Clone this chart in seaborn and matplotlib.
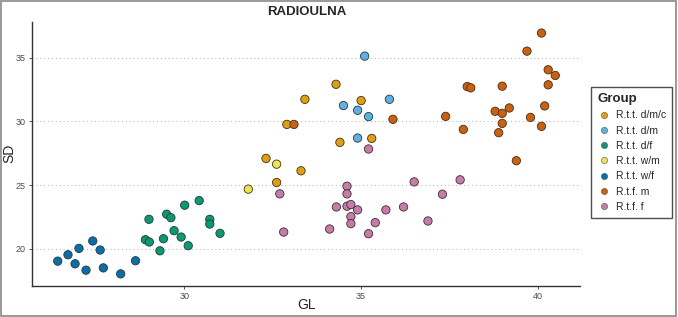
import numpy as np
import pandas as pd
import seaborn as sns
import matplotlib.pyplot as plt
from matplotlib.patches import Rectangle

# ======== data ========
groups = ['R.t.t. d/m/c', 'R.t.t. d/m', 'R.t.t. d/f', 'R.t.t. w/m',
          'R.t.t. w/f', 'R.t.f. m', 'R.t.f. f']
colors = ['#E69F00', '#56B4E9', '#009E73', '#F0E442',
          '#0072B2', '#D55E00', '#CC79A7']

gl_dmc = [34.29, 33.41, 35.00, 32.90, 35.30, 34.40, 32.31, 33.30, 32.61]
sd_dmc = [32.91, 31.73, 31.63, 29.76, 28.66, 28.35, 27.09, 26.12, 25.20]

gl_dm = [35.10, 34.50, 35.80, 34.90, 35.21, 34.90]
sd_dm = [35.12, 31.24, 31.73, 30.87, 30.37, 28.69]

gl_df = [29.00, 28.90, 29.01, 29.41, 29.31, 29.50, 29.62, 29.71,
         29.91, 30.01, 30.11, 30.42, 30.72, 30.72, 31.01]
sd_df = [22.31, 20.71, 20.53, 20.79, 19.84, 22.71, 22.44, 21.42,
         20.92, 23.42, 20.24, 23.78, 22.31, 21.94, 21.21]

gl_wm = [32.61, 31.81]
sd_wm = [26.64, 24.68]

gl_wf = [26.42, 26.71, 27.02, 26.91, 27.22, 27.41, 27.62, 27.71, 28.20, 28.62]
sd_wf = [19.03, 19.53, 20.03, 18.82, 18.32, 20.61, 19.90, 18.50, 18.03, 19.06]

gl_m = [40.10, 39.69, 40.29, 40.49, 40.29, 38.00, 38.10, 38.99, 40.19, 38.79,
        38.99, 39.19, 37.39, 39.79, 40.10, 38.99, 37.89, 38.89, 39.39,
        33.10, 35.90]
sd_m = [36.93, 35.51, 34.05, 33.60, 32.87, 32.73, 32.63, 32.76, 31.21, 30.79,
        30.63, 31.05, 30.39, 30.31, 29.61, 29.84, 29.37, 29.11, 26.91,
        29.76, 30.16]

gl_f = [32.70, 32.81, 34.60, 34.60, 34.30, 34.60, 34.71, 34.90, 34.71, 34.71,
        34.11, 35.21, 35.40, 35.70, 36.20, 36.50, 35.21, 37.80, 37.30, 36.89]
sd_f = [24.31, 21.31, 24.91, 24.31, 23.28, 23.34, 23.47, 23.05, 22.52, 21.97,
        21.55, 21.18, 22.05, 23.05, 23.28, 25.25, 27.83, 25.41, 24.28, 22.18]

gl_all = [gl_dmc, gl_dm, gl_df, gl_wm, gl_wf, gl_m, gl_f]
sd_all = [sd_dmc, sd_dm, sd_df, sd_wm, sd_wf, sd_m, sd_f]

df = pd.concat([pd.DataFrame({'GL': g, 'SD': s, 'Group': name})
                for g, s, name in zip(gl_all, sd_all, groups)],
               ignore_index=True)
df['Group'] = pd.Categorical(df['Group'], categories=groups, ordered=True)

# ======== plot ========
sns.set_theme(style='white')
plt.rcParams['font.family'] = ['Liberation Sans', 'DejaVu Sans']

fig = plt.figure(figsize=(6.78, 3.17), dpi=100)
ax = fig.add_axes([0.0476, 0.0987, 0.8084, 0.832])

sns.scatterplot(data=df, x='GL', y='SD', hue='Group', hue_order=groups,
                palette=colors, s=36, edgecolor='#333333', linewidth=0.6,
                ax=ax, legend=False, zorder=3)

ax.set_xlim(25.7, 41.2)
ax.set_ylim(17.1, 37.8)
ax.set_xticks([30, 35, 40])
ax.set_yticks([20, 25, 30, 35])
ax.tick_params(axis='both', labelsize=6.5, labelcolor='#4d4d4d', length=2.5,
               width=0.6, color='#333333', pad=2, bottom=True, left=True)
ax.yaxis.grid(True, linestyle=(0, (1, 2.5)), color='#bbbbbb', linewidth=0.8)
ax.xaxis.grid(False)
for side in ['top', 'right']:
    ax.spines[side].set_visible(False)
for side in ['left', 'bottom']:
    ax.spines[side].set_color('#333333')
    ax.spines[side].set_linewidth(1.0)

ax.set_xlabel('GL', fontsize=10)
ax.set_ylabel('SD', fontsize=10)
ax.xaxis.set_label_coords(0.5, -0.045)
ax.yaxis.set_label_coords(-0.03, 0.5)
ax.set_title('RADIOULNA', fontsize=9.5, fontweight='bold', pad=5)

# legend
handles = [plt.Line2D([], [], marker='o', linestyle='', markersize=4.5,
                      markerfacecolor=c, markeredgecolor='#555555',
                      markeredgewidth=0.4) for c in colors]
leg = fig.legend(handles, groups, title='Group', loc='upper left',
                 bbox_to_anchor=(591 / 678, 1 - 87 / 317), fontsize=7.5,
                 title_fontsize=9.5, frameon=True, fancybox=False,
                 edgecolor='#222222', handletextpad=0.6, labelspacing=0.5,
                 borderpad=0.6, handlelength=1.2, alignment='left',
                 borderaxespad=0)
leg.get_title().set_fontweight('bold')
leg.get_frame().set_linewidth(1.0)

# outer border
fig.patches.append(Rectangle((0.002, 0.003), 0.995, 0.994,
                             transform=fig.transFigure, fill=False,
                             edgecolor='#888888', linewidth=1.2))

fig.savefig('out.png', dpi=100)
